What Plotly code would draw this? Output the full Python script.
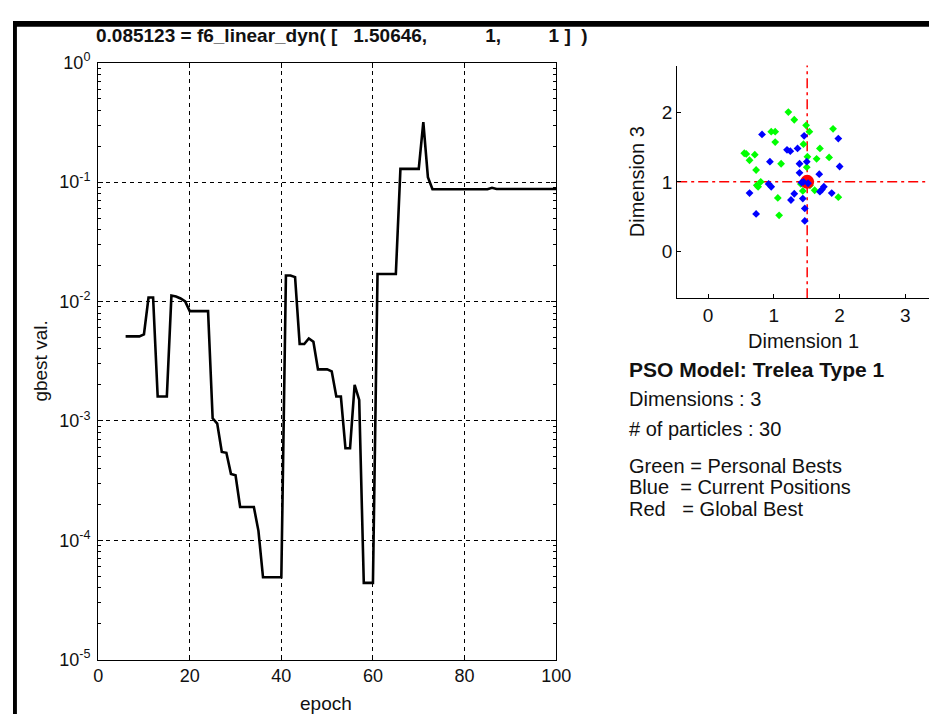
import plotly.graph_objects as go

# ---------------- data ----------------
epochs = list(range(6, 101))
gbest_val = [
    0.0051, 0.0051, 0.0051, 0.0051, 0.0053, 0.0108, 0.0108, 0.0016, 0.0016, 0.0016,   # 6-15
    0.0112, 0.0110, 0.0106, 0.0100, 0.0083, 0.0083, 0.0083, 0.0083, 0.0083, 0.00105,  # 16-25
    0.00095, 0.00055, 0.00054, 0.00036, 0.00035, 0.00019, 0.00019, 0.00019, 0.00019, 0.00012,  # 26-35
    0.000049, 0.000049, 0.000049, 0.000049, 0.000049, 0.0165, 0.0165, 0.0160, 0.0044, 0.0044,  # 36-45
    0.0049, 0.0046, 0.0027, 0.0027, 0.0027, 0.0026, 0.0016, 0.0016, 0.00059, 0.00059,  # 46-55
    0.0020, 0.0015, 0.000044, 0.000044, 0.000044, 0.0170, 0.0170, 0.0170, 0.0170, 0.0170,  # 56-65
    0.129, 0.129, 0.129, 0.129, 0.129, 0.318, 0.110, 0.087, 0.087, 0.087,  # 66-75
    0.087, 0.087, 0.087, 0.087, 0.087, 0.087, 0.087, 0.087, 0.087, 0.087,  # 76-85
    0.0895, 0.0875, 0.0875, 0.0875, 0.0875, 0.0875, 0.0875, 0.0875, 0.0875, 0.0875,  # 86-95
    0.0875, 0.0875, 0.0875, 0.0875, 0.0875,  # 96-100
]

x_ticks = [0, 20, 40, 60, 80, 100]
y_tickvals = [1e-5, 1e-4, 1e-3, 1e-2, 1e-1, 1e0]
y_ticktext = ["10<sup>-5</sup>", "10<sup>-4</sup>", "10<sup>-3</sup>",
              "10<sup>-2</sup>", "10<sup>-1</sup>", "10<sup>0</sup>"]

pbest_d1 = [1.22, 1.31, 1.49, 1.54, 1.90, 0.96, 1.02, 1.02, 1.45, 1.70,
            0.55, 0.58, 0.71, 0.63, 1.11, 1.51, 1.65, 1.84, 1.50, 0.73,
            0.80, 0.76, 1.41, 1.44, 1.62, 1.06, 1.08, 1.98, 0.74, 1.55]
pbest_d3 = [2.00, 1.89, 1.81, 1.72, 1.76, 1.72, 1.72, 1.57, 1.54, 1.48,
            1.41, 1.40, 1.39, 1.31, 1.26, 1.36, 1.33, 1.35, 1.21, 1.17,
            1.00, 0.93, 0.97, 0.87, 0.88, 0.77, 0.52, 0.78, 0.95, 0.95]

pos_d1 = [0.82, 1.46, 1.98, 1.20, 1.25, 1.36, 0.94, 1.39, 1.50, 2.00,
          1.39, 1.69, 0.92, 0.96, 1.42, 0.63, 1.31, 1.26, 1.44, 1.76,
          1.73, 1.70, 1.88, 0.73, 1.47, 1.47, 1.45, 1.52]
pos_d3 = [1.68, 1.66, 1.62, 1.46, 1.44, 1.48, 1.29, 1.26, 1.29, 1.22,
          1.13, 1.11, 0.97, 0.93, 0.99, 0.84, 0.83, 0.74, 0.76, 0.93,
          0.89, 0.86, 0.84, 0.54, 0.62, 0.44, 1.00, 0.98]

gbest_pos = [1.50646, 1.0]
scatter_xticks = [0, 1, 2, 3]
scatter_yticks = [0, 1, 2]

NB = "\u00a0"
title_text = ("0.085123 = f6_linear_dyn( [ " + NB * 2 + "1.50646," + NB * 11 +
              "1," + NB * 9 + "1 ]" + NB * 2 + ")")
info_lines = [
    ("<b>PSO Model: Trelea Type 1</b>", 369, 21),
    ("Dimensions : 3", 399, 20),
    ("# of particles : 30", 430, 20),
    ("Green = Personal Bests", 468, 20),
    ("Blue " + NB + "= Current Positions", 490, 20),
    ("Red " + NB * 2 + "= Global Best", 512, 20),
]

# ---------------- figure ----------------
# page has an 8px body margin; the figure runs to the window's right/bottom edge
OFF = 8
W, H = 944 - OFF, 724 - OFF
FONT = "Liberation Sans, Arial, sans-serif"


def px(x):
    return min(max((x - OFF) / W, 0.0), 1.0)


def py(y):
    return min(max(1 - (y - OFF) / H, 0.0), 1.0)


fig = go.Figure()

fig.add_trace(go.Scatter(
    x=epochs, y=gbest_val, mode="lines",
    line=dict(color="black", width=2.6),
    xaxis="x", yaxis="y", showlegend=False, hoverinfo="skip"))

fig.add_trace(go.Scatter(
    x=pbest_d1, y=pbest_d3, mode="markers",
    marker=dict(symbol="diamond", size=6, color="#00ff00", line=dict(width=0)),
    xaxis="x2", yaxis="y2", showlegend=False, hoverinfo="skip"))

fig.add_trace(go.Scatter(
    x=[gbest_pos[0]], y=[gbest_pos[1]], mode="markers",
    marker=dict(symbol="circle", size=14, color="#ff0000", line=dict(width=0)),
    xaxis="x2", yaxis="y2", showlegend=False, hoverinfo="skip"))

fig.add_trace(go.Scatter(
    x=pos_d1, y=pos_d3, mode="markers",
    marker=dict(symbol="diamond", size=6, color="#0000ff", line=dict(width=0)),
    xaxis="x2", yaxis="y2", showlegend=False, hoverinfo="skip"))

grid_dash = "4px,4px"

fig.update_layout(
    width=W, height=H,
    margin=dict(l=0, r=0, t=0, b=0),
    paper_bgcolor="white", plot_bgcolor="white",
    font=dict(family=FONT, color="#111111"),
    xaxis=dict(
        domain=[px(95), px(563)], range=[0, 100],
        tickmode="array", tickvals=x_ticks,
        ticks="inside", ticklen=5, tickcolor="black", tickwidth=1,
        showline=True, linecolor="black", linewidth=1.3, mirror="allticks",
        showgrid=True, gridcolor="black", griddash=grid_dash, gridwidth=1,
        zeroline=False, tickfont=dict(size=18, family=FONT),
        anchor="y",
    ),
    yaxis=dict(
        domain=[py(668), py(52)], type="log", range=[-5, 0],
        tickmode="array", tickvals=y_tickvals, ticktext=y_ticktext,
        ticks="inside", ticklen=5, tickcolor="black", tickwidth=1,
        minor=dict(ticks="inside", ticklen=3, tickcolor="black", dtick="D1", showgrid=False),
        showline=True, linecolor="black", linewidth=1.3, mirror="allticks",
        showgrid=True, gridcolor="black", griddash=grid_dash, gridwidth=1,
        zeroline=False, tickfont=dict(size=18, family=FONT),
        ticklabelstandoff=3,
        anchor="x",
    ),
    xaxis2=dict(
        domain=[px(686.7), 1.0], range=[-0.47, -0.47 + (944 - 686.7) / 67.2],
        tickmode="array", tickvals=scatter_xticks,
        ticks="inside", ticklen=4, tickcolor="black",
        showline=True, linecolor="black", linewidth=1.3, mirror=False,
        showgrid=False, zeroline=False, tickfont=dict(size=19, family=FONT),
        anchor="y2",
    ),
    yaxis2=dict(
        domain=[py(295), py(55)], range=[-0.667, 2.667],
        tickmode="array", tickvals=scatter_yticks,
        ticks="inside", ticklen=4, tickcolor="black",
        showline=True, linecolor="black", linewidth=1.3, mirror=False,
        showgrid=False, zeroline=False, tickfont=dict(size=19, family=FONT),
        anchor="x2",
    ),
)

# red dash-dot crosshair through global best
red_dash = "10px,4px,3px,4px"
fig.add_shape(type="line", xref="x2 domain", yref="y2", x0=0, x1=1,
              y0=gbest_pos[1], y1=gbest_pos[1],
              line=dict(color="#ff0000", width=1.5, dash=red_dash), layer="below")
fig.add_shape(type="line", xref="x2", yref="y2 domain", x0=gbest_pos[0], x1=gbest_pos[0],
              y0=0, y1=1,
              line=dict(color="#ff0000", width=1.5, dash=red_dash), layer="below")

# black frame (window border)
fig.add_shape(type="rect", xref="paper", yref="paper",
              x0=px(5), x1=1.0, y0=py(15), y1=py(9),
              fillcolor="black", line=dict(width=0))
fig.add_shape(type="rect", xref="paper", yref="paper",
              x0=px(5), x1=px(12), y0=0, y1=py(9),
              fillcolor="black", line=dict(width=0))

ann = []
ann.append(dict(text="<b>" + title_text + "</b>", x=px(91), y=py(24), xref="paper", yref="paper",
                xanchor="left", yanchor="middle", showarrow=False,
                font=dict(size=19, family=FONT, color="#111111")))
ann.append(dict(text="epoch", x=px(328), y=py(713), xref="paper", yref="paper",
                xanchor="center", yanchor="middle", showarrow=False,
                font=dict(size=19, family=FONT, color="#111111")))
ann.append(dict(text="gbest val.", x=px(36), y=py(360), xref="paper", yref="paper",
                xanchor="center", yanchor="middle", showarrow=False, textangle=-90,
                font=dict(size=19, family=FONT, color="#111111")))
ann.append(dict(text="Dimension 1", x=px(816), y=py(339), xref="paper", yref="paper",
                xanchor="center", yanchor="middle", showarrow=False,
                font=dict(size=20, family=FONT, color="#111111")))
ann.append(dict(text="Dimension 3", x=px(645), y=py(175), xref="paper", yref="paper",
                xanchor="center", yanchor="middle", showarrow=False, textangle=-90,
                font=dict(size=20, family=FONT, color="#111111")))
for txt, yy, fs in info_lines:
    ann.append(dict(text=txt, x=px(635), y=py(yy), xref="paper", yref="paper",
                    xanchor="left", yanchor="middle", showarrow=False,
                    font=dict(size=fs, family=FONT, color="#111111")))
fig.update_layout(annotations=ann)

fig.write_html("out.html")
